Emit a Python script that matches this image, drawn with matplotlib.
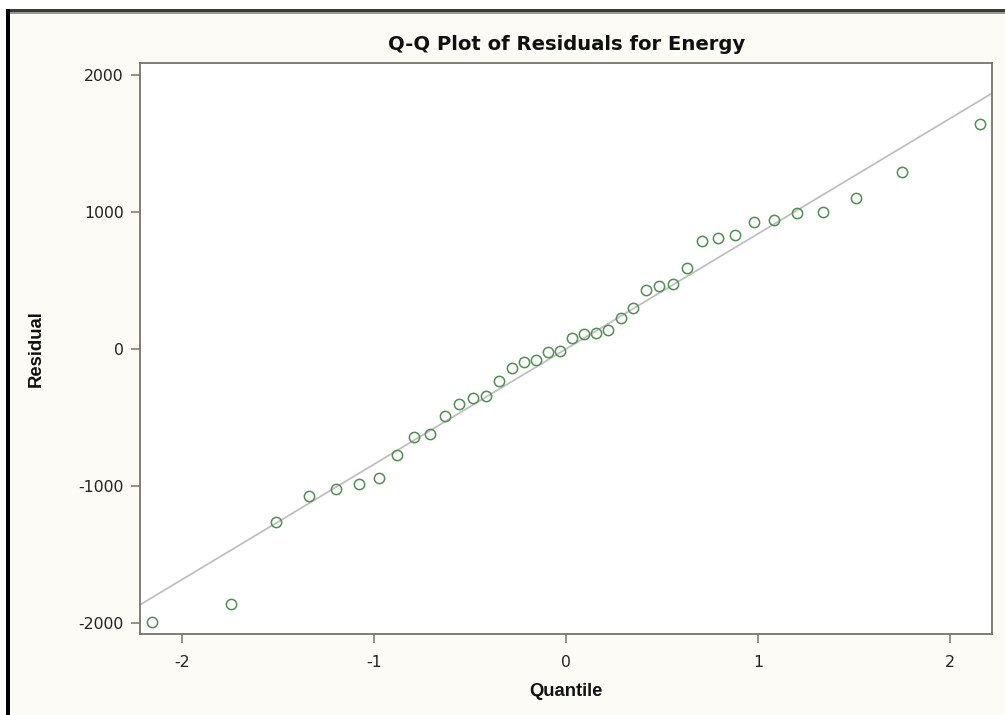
import matplotlib
matplotlib.use("Agg")
import matplotlib.pyplot as plt
from matplotlib.patches import Rectangle

# ---- data ----
quantiles = [-2.157, -1.747, -1.512, -1.340, -1.201, -1.081, -0.976, -0.880, -0.792, -0.709,
             -0.631, -0.557, -0.486, -0.417, -0.349, -0.284, -0.220, -0.156, -0.094, -0.031,
             0.031, 0.094, 0.156, 0.220, 0.284, 0.349, 0.417, 0.486, 0.557, 0.631,
             0.709, 0.792, 0.880, 0.976, 1.081, 1.201, 1.340, 1.512, 1.747, 2.157]
residuals = [-1992, -1859, -1261, -1069, -1018, -984, -940, -770, -641, -622,
             -491, -403, -359, -343, -233, -141, -97, -80, -24, -15,
             82, 107, 117, 138, 224, 299, 428, 459, 472, 593,
             787, 807, 829, 926, 938, 991, 1001, 1098, 1292, 1640]
ref_intercept = 0.0
ref_slope = 840.0
x_ticks = [-2, -1, 0, 1, 2]
y_ticks = [-2000, -1000, 0, 1000, 2000]
title = "Q-Q Plot of Residuals for Energy"
xlabel = "Quantile"
ylabel = "Residual"

plt.rcParams['font.family'] = ['DejaVu Sans']

W, H = 1005, 715
fig = plt.figure(figsize=(W / 100, H / 100), dpi=100, facecolor='white')

# window background and borders (pixel coords -> figure fraction)
def px_rect(x0, y0, x1, y1, color):
    fig.patches.append(Rectangle((x0 / W, 1 - y1 / H), (x1 - x0) / W, (y1 - y0) / H,
                                 transform=fig.transFigure, facecolor=color,
                                 edgecolor='none', zorder=-10))

px_rect(6, 9, W, H, '#fcfbf6')
px_rect(6, 9, W, 12, '#3a3a3a')
px_rect(6, 12, W, 13.5, '#9a9890')
px_rect(6, 9, 10, H, '#000000')

frame_col = '#77736a'
ax_l, ax_r, ax_t, ax_b = 140, 992.3, 63.3, 634.3
ax = fig.add_axes([ax_l / W, 1 - ax_b / H, (ax_r - ax_l) / W, (ax_b - ax_t) / H])
ax.set_zorder(5)
ax.set_facecolor('white')
for s in ax.spines.values():
    s.set_color(frame_col)
    s.set_linewidth(1.3)

ax.axline((0, ref_intercept), slope=ref_slope, color='#c0bec2', lw=1.3, zorder=2)
ax.plot(quantiles, residuals, linestyle='none', marker='o', markersize=7.4,
        markerfacecolor='none', markeredgecolor='#4f8f4f', markeredgewidth=1.1, zorder=3)

ax.set_xlim(-2.22, 2.22)
ax.set_ylim(-2080, 2082)
ax.set_xticks(x_ticks)
ax.set_yticks(y_ticks)
ax.set_xticklabels([str(v) for v in x_ticks])
ax.set_yticklabels([str(v) for v in y_ticks])
ax.tick_params(direction='out', length=6.2, width=1.1, color=frame_col,
               labelsize=11.3, labelcolor='#222222')
ax.tick_params(axis='x', pad=9)
ax.tick_params(axis='y', pad=5.5)

aw, ah = ax_r - ax_l, ax_b - ax_t
ax.text(0.5, 1 + (ax_t - 45) / ah, title, transform=ax.transAxes, ha='center', va='center',
        fontsize=14.1, fontweight='bold', color='#111111', family=['DejaVu Sans'])
ax.set_xlabel(xlabel, fontsize=13.3, fontweight='bold', color='#111111', family=['Liberation Sans', 'DejaVu Sans'])
ax.set_ylabel(ylabel, fontsize=13.3, fontweight='bold', color='#111111', family=['Liberation Sans', 'DejaVu Sans'])
ax.xaxis.label.set_va('center')
ax.yaxis.label.set_va('center')
ax.xaxis.set_label_coords(0.5, -(692 - ax_b) / ah)
ax.yaxis.set_label_coords(-(ax_l - 36) / aw, 0.5)

fig.savefig('out.png', dpi=100, facecolor=fig.get_facecolor())
